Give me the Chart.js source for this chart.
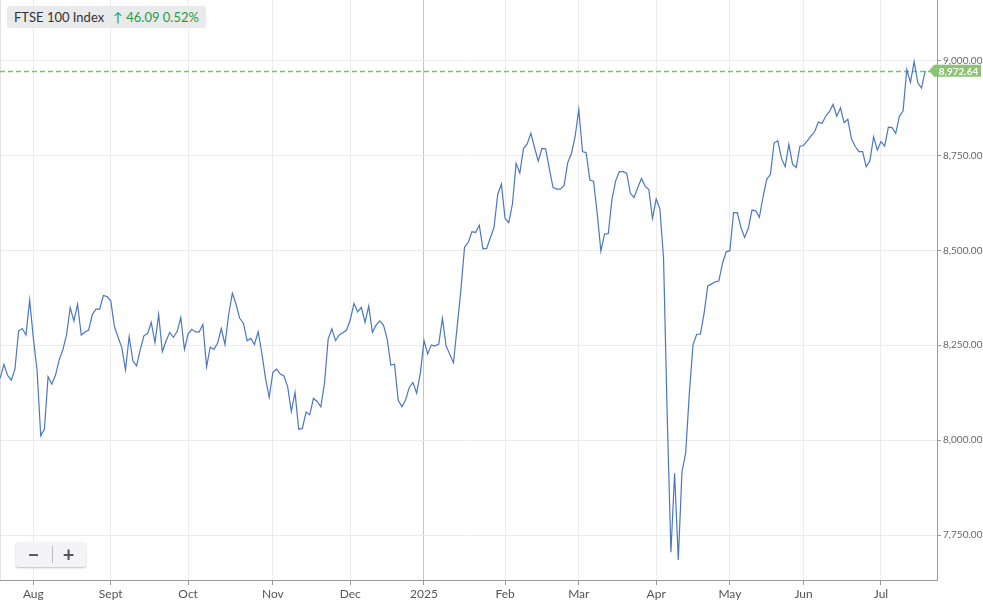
<!DOCTYPE html>
<html>
<head>
<meta charset="utf-8">
<title>FTSE 100 Index</title>
<script src="https://cdn.jsdelivr.net/npm/chart.js@4.4.1/dist/chart.umd.min.js"></script>
<style>
  body { margin: 0; background: #fff; font-family: Lato, sans-serif; }
  #wrap { position: relative; width: 983px; height: 603px; }
  .badge {
    position: absolute; left: 7px; top: 6px; height: 22px; padding: 0 7px;
    background: #e9eaec; border-radius: 3px; font-size: 13px; line-height: 22px; color: #333;
    white-space: nowrap;
  }
  .badge .chg { color: #2a9a48; margin-left: 9px; }
  .zoomer {
    position: absolute; left: 16px; top: 542px; width: 70px; height: 25px;
    background: #f4f4f6; border-radius: 3px; box-shadow: 0 1px 2px rgba(0,0,0,0.25);
    display: flex; align-items: center; color: #555; font-weight: bold; font-size: 20px;
  }
  .zoomer span { width: 35px; text-align: center; line-height: 25px; }
  .zoomer .sep { position: absolute; left: 36px; top: 4px; width: 1px; height: 17px; background: #bbb; }
</style>
</head>
<body>
<div id="wrap">
  <canvas id="chart" width="983" height="603"></canvas>
  <div class="badge">FTSE 100 Index<span class="chg">↑ 46.09 0.52%</span></div>
  <div class="zoomer"><span>−</span><div class="sep"></div><span>+</span></div>
</div>
<script>
// daily closes, 19 Jul 2024 .. 17 Jul 2025 (trading days)
const closes = [
  8163, 8200, 8171, 8158, 8187, 8288, 8294, 8277, 8369, 8268,
  8185, 8012, 8029, 8167, 8148, 8171, 8211, 8238, 8277, 8349,
  8314, 8358, 8277, 8285, 8290, 8331, 8345, 8345, 8381, 8378,
  8367, 8299, 8271, 8244, 8185, 8273, 8209, 8196, 8238, 8275,
  8281, 8310, 8257, 8331, 8233, 8261, 8284, 8271, 8286, 8323,
  8239, 8280, 8292, 8285, 8285, 8305, 8193, 8245, 8239, 8256,
  8294, 8252, 8331, 8387, 8358, 8321, 8308, 8262, 8268, 8252,
  8286, 8229, 8163, 8113, 8179, 8187, 8174, 8169, 8141, 8076,
  8126, 8029, 8031, 8074, 8067, 8110, 8102, 8088, 8150, 8267,
  8293, 8262, 8277, 8283, 8290, 8317, 8360, 8338, 8350, 8310,
  8353, 8284, 8303, 8314, 8303, 8267, 8198, 8200, 8106, 8088,
  8106, 8139, 8152, 8124, 8176, 8262, 8227, 8251, 8248, 8253,
  8321, 8248, 8226, 8204, 8299, 8395, 8508, 8521, 8549, 8547,
  8566, 8504, 8505, 8533, 8560, 8647, 8674, 8584, 8573, 8622,
  8729, 8703, 8768, 8780, 8808, 8770, 8735, 8768, 8767, 8716,
  8666, 8661, 8661, 8670, 8731, 8755, 8799, 8871, 8760, 8757,
  8685, 8682, 8597, 8498, 8543, 8544, 8634, 8683, 8707, 8707,
  8703, 8650, 8639, 8665, 8689, 8669, 8660, 8584, 8635, 8610,
  8479, 8062, 7705, 7913, 7685, 7917, 7966, 8124, 8251, 8279,
  8279, 8334, 8406, 8411, 8417, 8419, 8466, 8496, 8499, 8599,
  8599, 8560, 8534, 8558, 8606, 8604, 8587, 8641, 8687, 8700,
  8783, 8788, 8742, 8720, 8779, 8727, 8718, 8774, 8776, 8788,
  8801, 8812, 8838, 8834, 8853, 8865, 8884, 8853, 8875, 8836,
  8845, 8793, 8774, 8760, 8760, 8720, 8736, 8799, 8764, 8786,
  8774, 8824, 8823, 8808, 8853, 8867, 8976, 8942, 8997, 8941,
  8927, 8972.64
];

// first trading day of each month (index into closes)
const monthTickIdx = [9, 30, 51, 74, 95, 115, 137, 157, 178, 198, 218, 239];
const monthTickLabels = ["Aug", "Sept", "Oct", "Nov", "Dec", "2025", "Feb", "Mar", "Apr", "May", "Jun", "Jul"];
const yearTickIdx = 115;

const priceTicks = [7750, 8000, 8250, 8500, 8750, 9000];
const lastPrice = closes[closes.length - 1];

const fmt = (v) => v.toLocaleString("en-US", { minimumFractionDigits: 2, maximumFractionDigits: 2 });

// dashed last price line + green price tag
const lastPricePlugin = {
  id: "lastPrice",
  beforeDatasetsDraw(chart) {
    const { ctx, chartArea, scales } = chart;
    const y = Math.round(scales.y.getPixelForValue(lastPrice)) + 0.5;
    ctx.save();
    // faint left edge
    ctx.strokeStyle = "#e3e3e3";
    ctx.lineWidth = 1;
    ctx.beginPath();
    ctx.moveTo(0.5, chartArea.top);
    ctx.lineTo(0.5, chartArea.bottom);
    ctx.stroke();
    // dashed last price line
    ctx.strokeStyle = "#7cc45c";
    ctx.lineWidth = 1.3;
    ctx.setLineDash([5, 3]);
    ctx.beginPath();
    ctx.moveTo(chartArea.left, y);
    ctx.lineTo(chartArea.right, y);
    ctx.stroke();
    ctx.restore();
  },
  afterDraw(chart) {
    const { ctx, chartArea, scales } = chart;
    const y = scales.y.getPixelForValue(lastPrice);
    const x0 = chartArea.right - 8;
    const h = 12;
    ctx.save();
    ctx.fillStyle = "#8cc474";
    ctx.beginPath();
    ctx.moveTo(x0, y);
    ctx.lineTo(x0 + 5, y - h / 2);
    ctx.lineTo(981, y - h / 2);
    ctx.lineTo(981, y + h / 2);
    ctx.lineTo(x0 + 5, y + h / 2);
    ctx.closePath();
    ctx.fill();
    ctx.fillStyle = "#fff";
    ctx.font = "bold 10px Lato";
    ctx.textAlign = "center";
    ctx.textBaseline = "middle";
    ctx.fillText(fmt(lastPrice), (x0 + 5 + 981) / 2 + 1, y + 0.5);
    ctx.restore();
  }
};

new Chart(document.getElementById("chart"), {
  type: "line",
  data: {
    datasets: [{
      data: closes.map((v, i) => ({ x: i, y: v })),
      borderColor: "#4a77c4",
      borderWidth: 1.2,
      pointRadius: 0,
      tension: 0,
      fill: false
    }]
  },
  options: {
    responsive: false,
    animation: false,
    devicePixelRatio: 1,
    layout: { padding: 0 },
    plugins: { legend: { display: false }, tooltip: { enabled: false } },
    scales: {
      x: {
        type: "linear",
        min: -0.05,
        max: 254.2,
        afterBuildTicks: (scale) => { scale.ticks = monthTickIdx.map((v) => ({ value: v })); },
        afterFit: (scale) => { scale.height = 23; scale.paddingLeft = 0; scale.paddingRight = 0; },
        ticks: {
          autoSkip: false,
          maxRotation: 0,
          padding: 2,
          color: "#555",
          font: { family: "Lato", size: 12 },
          callback: (v) => monthTickLabels[monthTickIdx.indexOf(v)]
        },
        grid: {
          color: (c) => (c.tick && c.tick.value === yearTickIdx ? "#c6c6c6" : "#ececec"),
          tickColor: "#999",
          tickLength: 5
        },
        border: { display: true, color: "#999" }
      },
      y: {
        position: "right",
        min: 7632,
        max: 9159,
        afterBuildTicks: (scale) => { scale.ticks = priceTicks.map((v) => ({ value: v })); },
        afterFit: (scale) => { scale.width = 46; scale.paddingTop = 0; scale.paddingBottom = 0; },
        ticks: {
          padding: 2,
          color: "#666",
          font: { family: "Lato", size: 10 },
          callback: (v) => fmt(v)
        },
        grid: { color: "#ececec", tickColor: "#999", tickLength: 4 },
        border: { display: true, color: "#999" }
      }
    }
  },
  plugins: [lastPricePlugin]
});
</script>
</body>
</html>
